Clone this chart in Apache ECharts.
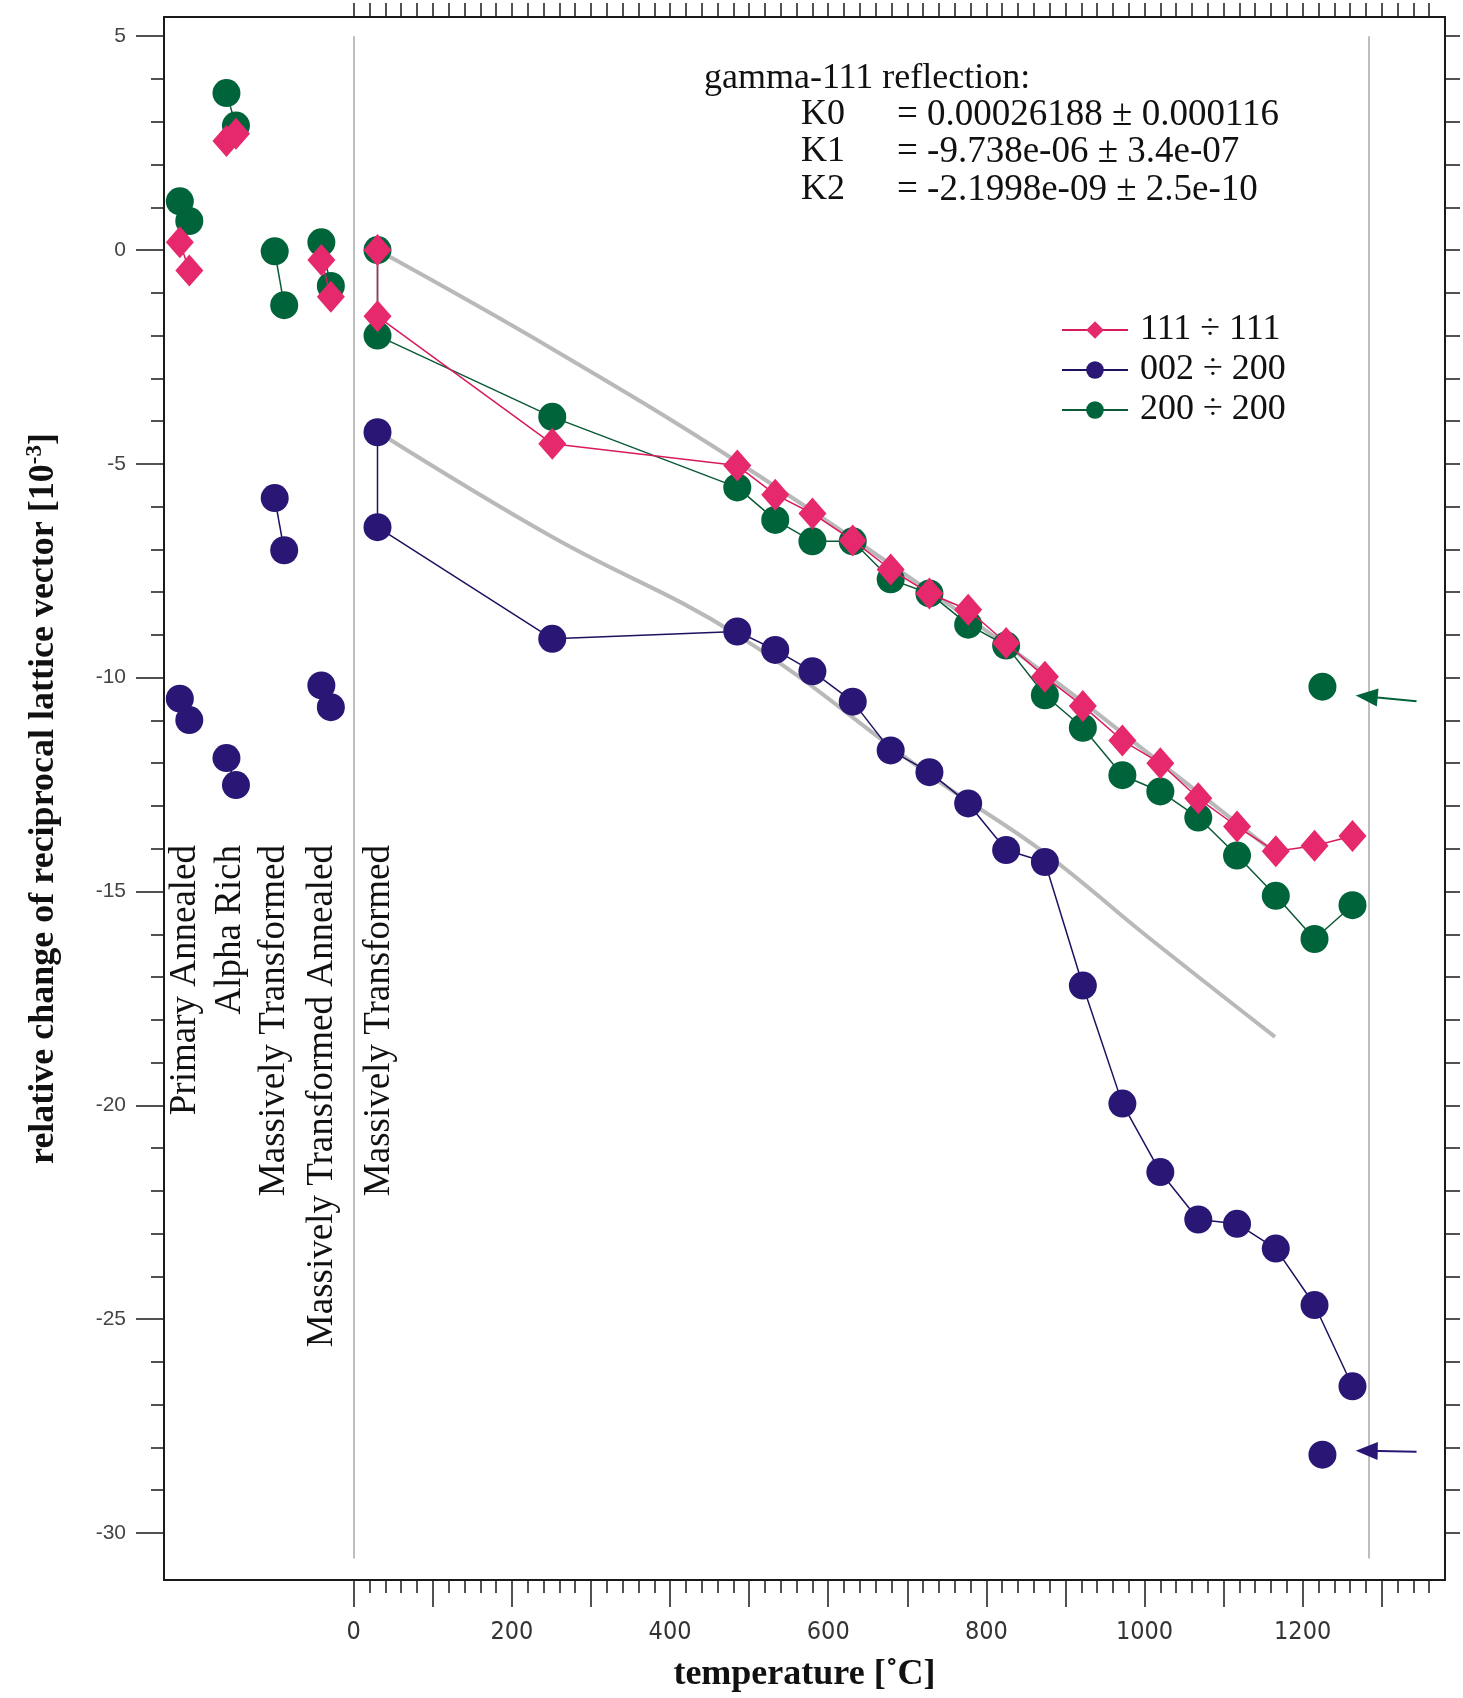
<!DOCTYPE html>
<html><head><meta charset="utf-8">
<script src="https://cdn.jsdelivr.net/npm/echarts@6/dist/echarts.min.js"></script>
<style>html,body{margin:0;padding:0;background:#fff}#c{width:1463px;height:1698px}</style>
</head><body><div id="c"></div>
<script>
// ---------------- DATA ----------------
const seriesNames = ['111 ÷ 111', '002 ÷ 200', '200 ÷ 200'];
const groupLabels = ['Primary Annealed', 'Alpha Rich', 'Massively Transformed', 'Massively Transformed Annealed', 'Massively Transformed'];
const annotationTitle = 'gamma-111 reflection:';
const annotationKeys = ['K0', 'K1', 'K2'];
const annotationVals = ['= 0.00026188 ± 0.000116', '= -9.738e-06 ± 3.4e-07', '= -2.1998e-09 ± 2.5e-10'];

// sample groups at the left (plotted at pseudo-temperatures left of 0)
const pinkGroups = [
  [[-220, 0.18], [-208, -0.48]],
  [[-161, 2.55], [-149, 2.72]],
  [[-41, -0.23], [-29, -1.09]]
];
const purpleGroups = [
  [[-220, -10.49], [-208, -10.99]],
  [[-161, -11.88], [-149, -12.51]],
  [[-100, -5.8], [-88, -7.02]],
  [[-41, -10.18], [-29, -10.69]]
];
const greenGroups = [
  [[-220, 1.14], [-208, 0.68]],
  [[-161, 3.67], [-149, 2.91]],
  [[-100, -0.03], [-88, -1.29]],
  [[-41, 0.18], [-29, -0.84]]
];

// temperature run
const temps = [30, 30, 251, 485, 533, 580, 631, 679, 728, 777, 825, 874, 922, 972, 1020, 1068, 1117, 1166, 1215, 1263];
const pinkMain = [0, -1.55, -4.53, -5.04, -5.72, -6.16, -6.79, -7.47, -8.03, -8.41, -9.19, -9.98, -10.66, -11.47, -12.0, -12.82, -13.48, -14.06, -13.93, -13.7];
const purpleMain = [-4.26, -6.48, -9.09, -8.92, -9.35, -9.85, -10.56, -11.7, -12.21, -12.94, -14.03, -14.31, -17.2, -19.96, -21.56, -22.67, -22.77, -23.35, -24.67, -26.57];
const greenMain = [0, -2.0, -3.9, -5.55, -6.31, -6.81, -6.81, -7.7, -8.03, -8.76, -9.25, -10.41, -11.17, -12.28, -12.66, -13.27, -14.16, -15.1, -16.11, -15.32];

// isolated points with arrows
const greenIsolated = [[1225, -10.21]];
const purpleIsolated = [[1225, -28.17]];
const greenArrow = [[1344, -10.55], [1281, -10.44]];
const purpleArrow = [[1344, -28.1], [1281, -28.08]];

// grey fit curves
const fitTemps = [30, 250, 485, 730, 874, 1000, 1165];
const fitUpper = [0, -2.3, -4.95, -8.0, -9.9, -11.7, -14.1];
const fitLower = [-4.25, -6.7, -9.0, -12.3, -14.1, -16.0, -18.4];

// vertical reference lines
const vLines = [0, 1283];
const vLineRange = [5.0, -30.6];

// axis ticks
const xLabelValues = [0, 200, 400, 600, 800, 1000, 1200];
const xMajorTicks = [0, 100, 200, 300, 400, 500, 600, 700, 800, 900, 1000, 1100, 1200, 1300];
const xMinorTicks = [];
for (let v = 0; v <= 1360; v += 20) xMinorTicks.push(v);
const yLabelValues = [5, 0, -5, -10, -15, -20, -25, -30];
const yMinorTicks = [];
for (let v = 5; v >= -30; v -= 1) yMinorTicks.push(v);

// ---------------- STYLE ----------------
const PINK = '#e6286c', PURPLE = '#2a1675', GREEN = '#00643a';
const PINK_L = '#d81b5e', PURPLE_L = '#1f1060', GREEN_L = '#0a5a35';
const SERIF = "'Liberation Serif','Times New Roman',serif";
const XMIN = -240, XMAX = 1380, YMIN = -31.1, YMAX = 5.45;

function pairSeries(name, data, color, lineColor, symbol, size, z) {
  return {
    name, type: 'line', data, symbol, symbolSize: size, z: z,
    itemStyle: { color: color },
    lineStyle: { color: lineColor, width: 1.5 },
    emphasis: { disabled: true }, animation: false
  };
}
const zip = (xs, ys) => xs.map((x, i) => [x, ys[i]]);

const series = [];
// grey fits + vertical lines
series.push({
  type: 'line', name: 'fitU', data: zip(fitTemps, fitUpper), smooth: 0.4, symbol: 'none', z: 1,
  lineStyle: { color: '#b9b9b9', width: 4 }, animation: false,
  markLine: {
    silent: true, symbol: ['none', 'none'], label: { show: false },
    lineStyle: { color: '#a8a8a8', width: 1.5, type: 'solid' },
    data: vLines.map(v => [{ coord: [v, vLineRange[0]] }, { coord: [v, vLineRange[1]] }])
  }
});
series.push({
  type: 'line', name: 'fitL', data: zip(fitTemps, fitLower), smooth: 0.4, symbol: 'none', z: 1,
  lineStyle: { color: '#b9b9b9', width: 4 }, animation: false
});

const CIRC = 28, DIAM = [28, 32];
const arrowMark = (pts, color) => ({
  silent: true, symbol: ['none', 'triangle'], symbolSize: [18, 22], label: { show: false },
  lineStyle: { color: color, width: 2, type: 'solid' },
  data: [[{ coord: pts[0] }, { coord: pts[1] }]]
});
// purple
purpleGroups.forEach(g => series.push(pairSeries(seriesNames[1], g, PURPLE, PURPLE_L, 'circle', CIRC, 3)));
series.push(pairSeries(seriesNames[1], zip(temps, purpleMain), PURPLE, PURPLE_L, 'circle', CIRC, 3));
series.push(Object.assign(pairSeries(seriesNames[1], purpleIsolated, PURPLE, PURPLE_L, 'circle', CIRC, 3), {
  markLine: arrowMark(purpleArrow, PURPLE)
}));
// green
greenGroups.forEach(g => series.push(pairSeries(seriesNames[2], g, GREEN, GREEN_L, 'circle', CIRC, 4)));
series.push(pairSeries(seriesNames[2], zip(temps, greenMain), GREEN, GREEN_L, 'circle', CIRC, 4));
series.push(Object.assign(pairSeries(seriesNames[2], greenIsolated, GREEN, GREEN_L, 'circle', CIRC, 4), {
  markLine: arrowMark(greenArrow, GREEN)
}));
// pink
pinkGroups.forEach(g => series.push(pairSeries(seriesNames[0], g, PINK, PINK_L, 'diamond', DIAM, 5)));
series.push(pairSeries(seriesNames[0], zip(temps, pinkMain), PINK, PINK_L, 'diamond', DIAM, 5));

const axisLineBlack = { show: true, onZero: false, lineStyle: { color: '#1a1a1a', width: 2 } };
const noLine = { show: false, onZero: false };
const noLabel = { show: false };

const option = {
  backgroundColor: '#ffffff',
  animation: false,
  grid: { left: 164, right: 18, top: 17, bottom: 118, containLabel: false },
  legend: {
    data: seriesNames, orient: 'vertical', left: 1061, top: 311,
    itemWidth: 66, itemHeight: 22, itemGap: 2, padding: 0,
    textStyle: { fontFamily: SERIF, fontSize: 36, color: '#111', lineHeight: 38, padding: [0, 0, 0, 7] },
    selectedMode: false
  },
  xAxis: [
    { type: 'value', position: 'bottom', min: XMIN, max: XMAX, splitLine: { show: false },
      axisLine: axisLineBlack,
      axisTick: { show: true, inside: false, length: 13, customValues: xMinorTicks, lineStyle: { color: '#1a1a1a', width: 1.5 } },
      axisLabel: noLabel,
      name: 'temperature [˚C]', nameLocation: 'middle', nameGap: 77,
      nameTextStyle: { fontFamily: SERIF, fontSize: 36, fontWeight: 'bold', color: '#111' } },
    { type: 'value', position: 'bottom', min: XMIN, max: XMAX, splitLine: { show: false },
      axisLine: noLine,
      axisTick: { show: true, inside: false, length: 27, customValues: xMajorTicks, lineStyle: { color: '#1a1a1a', width: 1.5 } },
      axisLabel: { show: true, customValues: xLabelValues, margin: 40, formatter: v => String(v),
        fontFamily: "'Liberation Sans Narrow','DejaVu Sans Condensed',sans-serif", fontSize: 25, color: '#333' } },
    { type: 'value', position: 'top', min: XMIN, max: XMAX, splitLine: { show: false },
      axisLine: axisLineBlack,
      axisTick: { show: true, inside: false, length: 14, customValues: xMinorTicks, lineStyle: { color: '#1a1a1a', width: 1.5 } },
      axisLabel: noLabel }
  ],
  yAxis: [
    { type: 'value', position: 'left', min: YMIN, max: YMAX, splitLine: { show: false },
      axisLine: axisLineBlack,
      axisTick: { show: true, inside: false, length: 13, customValues: yMinorTicks, lineStyle: { color: '#1a1a1a', width: 1.5 } },
      axisLabel: noLabel,
      name: '{a|relative change of reciprocal lattice vector [10}{s|-3}{a|]}',
      nameLocation: 'middle', nameRotate: 90, nameGap: 100,
      nameTextStyle: {
        rich: {
          a: { fontFamily: SERIF, fontSize: 36, fontWeight: 'bold', color: '#111', lineHeight: 40 },
          s: { fontFamily: SERIF, fontSize: 23, fontWeight: 'bold', color: '#111', lineHeight: 23, verticalAlign: 'top' }
        }
      } },
    { type: 'value', position: 'left', min: YMIN, max: YMAX, splitLine: { show: false },
      axisLine: noLine,
      axisTick: { show: true, inside: false, length: 28, customValues: yLabelValues, lineStyle: { color: '#1a1a1a', width: 1.5 } },
      axisLabel: { show: true, customValues: yLabelValues, margin: 38, formatter: v => String(v),
        fontFamily: "'Liberation Sans','DejaVu Sans',sans-serif", fontSize: 21, color: '#444' } },
    { type: 'value', position: 'right', min: YMIN, max: YMAX, splitLine: { show: false },
      axisLine: axisLineBlack,
      axisTick: { show: true, inside: false, length: 15, customValues: yMinorTicks, lineStyle: { color: '#1a1a1a', width: 1.5 } },
      axisLabel: noLabel }
  ],
  series: series,
  graphic: []
};

// vertical sample labels and fit annotation (text)
const labelX = [185, 230, 274, 322, 379];
groupLabels.forEach((t, i) => option.graphic.push({
  type: 'text', x: labelX[i], y: 845, rotation: Math.PI / 2, silent: true,
  style: { text: t, fontFamily: SERIF, fontSize: 37, fill: '#111', align: 'right', verticalAlign: 'middle' }
}));
option.graphic.push({ type: 'text', x: 704, y: 79, silent: true,
  style: { text: annotationTitle, fontFamily: SERIF, fontSize: 36, fill: '#111', align: 'left', verticalAlign: 'middle' } });
const annY = [115, 152, 190];
annotationKeys.forEach((k, i) => {
  option.graphic.push({ type: 'text', x: 801, y: annY[i], silent: true,
    style: { text: k, fontFamily: SERIF, fontSize: 36, fill: '#111', align: 'left', verticalAlign: 'middle' } });
  option.graphic.push({ type: 'text', x: 897, y: annY[i], silent: true,
    style: { text: annotationVals[i], fontFamily: SERIF, fontSize: 37, fill: '#111', align: 'left', verticalAlign: 'middle' } });
});

const chart = echarts.init(document.getElementById('c'), null, { renderer: 'canvas' });
chart.setOption(option);
</script>
</body></html>
